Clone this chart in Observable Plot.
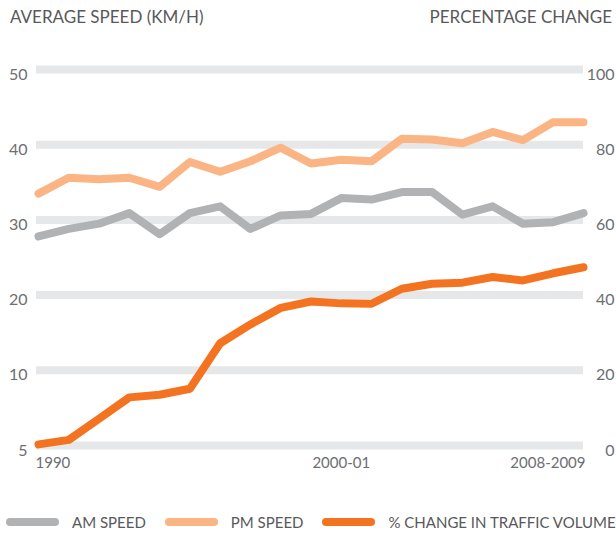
<!DOCTYPE html>
<html>
<head>
<meta charset="utf-8">
<script src="https://cdn.jsdelivr.net/npm/d3@7"></script>
<script src="https://cdn.jsdelivr.net/npm/@observablehq/plot@0.6"></script>
<style>
  body { margin: 0; background: #fff; }
  #wrap { width: 616px; height: 536px; position: relative; overflow: hidden;
          font-family: "Lato", sans-serif; color: #58595b; }
  .hdr { position: absolute; top: 0; left: 0; width: 616px; height: 34px; }
  .hdr span { position: absolute; top: 0; line-height: 34px; font-size: 17px; }
  #chart { position: absolute; top: 34px; left: 0; }
  .legend { position: absolute; top: 512px; left: 6px; height: 20px; display: flex; align-items: center;
            font-size: 15px; color: #58595b; white-space: nowrap; }
  .sw { display: inline-block; width: 53px; height: 8px; border-radius: 4px; margin-right: 13px; }
  .item { display: flex; align-items: center; margin-right: 19px; }
</style>
</head>
<body>
<div id="wrap">
  <div class="hdr">
    <span id="tl" style="left:10px"></span>
    <span id="tr" style="right:4px"></span>
  </div>
  <div id="chart"></div>
  <div class="legend" id="legend"></div>
</div>
<script>
// ---- data ----
const periods = [1990, 1991, 1992, 1993, 1994, 1995, 1996, 1997, 1998, 1999,
                 2000, 2001, 2002, 2003, 2004, 2005, 2006, 2007, 2008];
const amSpeed = [27.8, 28.8, 29.5, 30.9, 28.1, 30.9, 31.8, 28.8, 30.6, 30.8,
                 32.9, 32.7, 33.7, 33.7, 30.7, 31.8, 29.5, 29.7, 30.9];
const pmSpeed = [33.5, 35.6, 35.4, 35.6, 34.4, 37.7, 36.4, 37.8, 39.6, 37.5,
                 38.0, 37.8, 40.8, 40.7, 40.2, 41.7, 40.6, 43.0, 43.0];
const trafficChange = [0.3, 1.5, 7.1, 12.8, 13.5, 15.1, 27.2, 32.2, 36.6, 38.3,
                       37.8, 37.7, 41.7, 43.0, 43.3, 44.8, 43.9, 45.8, 47.4];

const seriesNames = ["AM SPEED", "PM SPEED", "% CHANGE IN TRAFFIC VOLUME"];
const seriesColors = ["#b1b2b4", "#fbb584", "#f47321"];

const leftTitle = "AVERAGE SPEED (KM/H)";
const rightTitle = "PERCENTAGE CHANGE";
const leftTicks = [0, 10, 20, 30, 40, 50];
const leftTickLabels = ["5", "10", "20", "30", "40", "50"];
const rightTicks = [0, 20, 40, 60, 80, 100];
const rightTickLabels = ["0", "20", "40", "60", "80", "100"];
const pctPerKmh = 2; // right axis units per left axis unit
const xTickValues = [1990, 2000, 2008];
const xTickLabels = ["1990", "2000-01", "2008-2009"];

// ---- build ----
const rows = periods.map((p, i) => ({ period: p, am: amSpeed[i], pm: pmSpeed[i], traffic: trafficChange[i] }));

document.getElementById("tl").textContent = leftTitle;
document.getElementById("tr").textContent = rightTitle;

const font = '"Lato", sans-serif';
const tickColor = "#6d6e71";
const lineOpts = { x: "period", strokeWidth: 8, strokeLinecap: "round", strokeLinejoin: "round" };

const xLabel = (k, anchor, dx) => Plot.text([xTickValues[k]], {
  x: d => d, frameAnchor: "bottom", dy: 22, dx, textAnchor: anchor,
  text: () => xTickLabels[k], fill: tickColor, fontSize: 15
});

const chart = Plot.plot({
  width: 616, height: 452,
  marginTop: 35, marginBottom: 41, marginLeft: 38, marginRight: 33,
  x: { domain: [periods[0], periods[periods.length - 1]], axis: null },
  y: { domain: [leftTicks[0], leftTicks[leftTicks.length - 1]], axis: null },
  style: { fontFamily: font, fontSize: "16px", background: "transparent", overflow: "visible" },
  marks: [
    Plot.ruleY(leftTicks, { stroke: "#e6e7e8", strokeWidth: 8, insetLeft: -2 }),
    Plot.axisY({ anchor: "left", ticks: leftTicks, tickSize: 0, tickPadding: 11, dy: 5,
      tickFormat: d => leftTickLabels[leftTicks.indexOf(d)], fill: tickColor, fontSize: 16, label: null }),
    Plot.axisY({ anchor: "right", ticks: rightTicks.map(v => v / pctPerKmh), tickSize: 0, tickPadding: 0,
      textAnchor: "end", dx: 31, dy: 5,
      tickFormat: d => rightTickLabels[rightTicks.indexOf(d * pctPerKmh)], fill: tickColor, fontSize: 16, label: null }),
    Plot.lineY(rows, { ...lineOpts, y: "am", stroke: seriesColors[0] }),
    Plot.lineY(rows, { ...lineOpts, y: "pm", stroke: seriesColors[1] }),
    Plot.lineY(rows, { ...lineOpts, y: d => d.traffic / pctPerKmh, stroke: seriesColors[2] }),
    xLabel(0, "start", -3),
    xLabel(1, "middle", 0),
    xLabel(2, "end", 2)
  ]
});
document.getElementById("chart").appendChild(chart);

const legend = document.getElementById("legend");
seriesNames.forEach((name, i) => {
  const item = document.createElement("div");
  item.className = "item";
  const sw = document.createElement("span");
  sw.className = "sw";
  sw.style.background = seriesColors[i];
  const t = document.createElement("span");
  t.textContent = name;
  item.appendChild(sw);
  item.appendChild(t);
  legend.appendChild(item);
});
</script>
</body>
</html>
